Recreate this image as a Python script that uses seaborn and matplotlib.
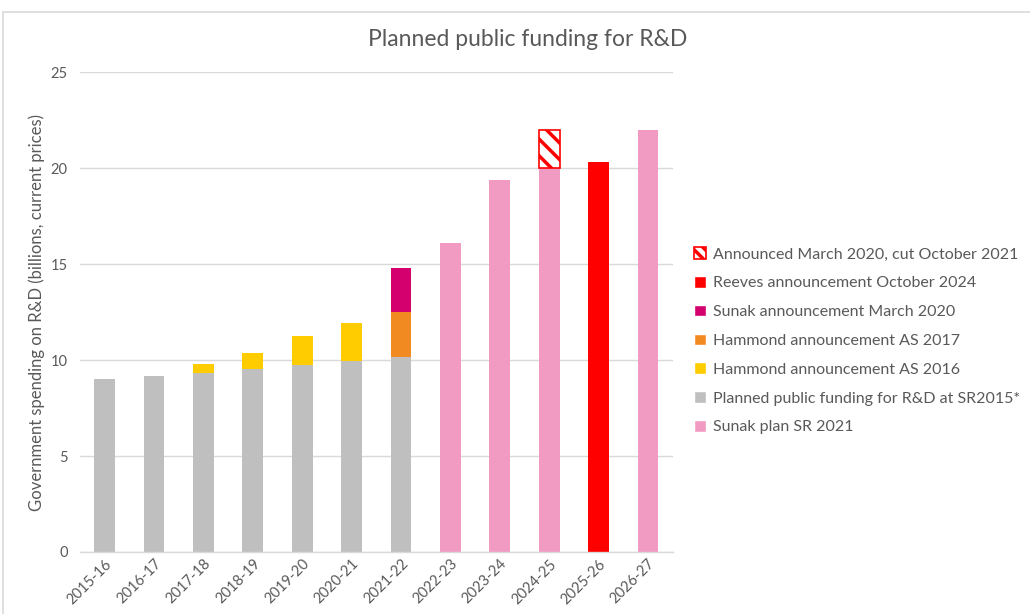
import numpy as np
import pandas as pd
import matplotlib
matplotlib.use("Agg")
import matplotlib.pyplot as plt
import seaborn as sns
from matplotlib.patches import Rectangle, Patch

years = ["2015-16", "2016-17", "2017-18", "2018-19", "2019-20", "2020-21",
         "2021-22", "2022-23", "2023-24", "2024-25", "2025-26", "2026-27"]
sr2015 = [9.0, 9.2, 9.35, 9.55, 9.75, 9.95, 10.15, 0, 0, 0, 0, 0]
hammond_2016 = [0, 0, 0.45, 0.8, 1.5, 2.0, 0, 0, 0, 0, 0, 0]
hammond_2017 = [0, 0, 0, 0, 0, 0, 2.35, 0, 0, 0, 0, 0]
sunak_2020 = [0, 0, 0, 0, 0, 0, 2.3, 0, 0, 0, 0, 0]
sunak_sr2021 = [0, 0, 0, 0, 0, 0, 0, 16.1, 19.4, 20.0, 0, 22.0]
reeves_2024 = [0, 0, 0, 0, 0, 0, 0, 0, 0, 0, 20.35, 0]
cut_2021 = [0, 0, 0, 0, 0, 0, 0, 0, 0, 2.0, 0, 0]

title = "Planned public funding for R&D"
ylabel = "Government spending on R&D (billions, current prices)"

C_GRAY = "#bfbfbf"
C_YEL = "#ffcc00"
C_ORG = "#f28a22"
C_MAG = "#d4006e"
C_PINK = "#f19bc2"
C_RED = "#ff0000"
TXT = "#595959"

sns.set_theme(style="white")
plt.rcParams["font.family"] = ["Lato", "DejaVu Sans"]
plt.rcParams["hatch.linewidth"] = 2.5
plt.rcParams["hatch.color"] = C_RED

fig = plt.figure(figsize=(10.30, 6.14), dpi=100)
ax = fig.add_axes([0.0777, 0.101, 0.5753, 0.781])

layers = [
    ("sr2015", sr2015, C_GRAY),
    ("h16", hammond_2016, C_YEL),
    ("h17", hammond_2017, C_ORG),
    ("s20", sunak_2020, C_MAG),
    ("pink", sunak_sr2021, C_PINK),
    ("reeves", reeves_2024, C_RED),
]
bottom = np.zeros(len(years))
for name, vals, col in layers:
    vals = np.array(vals, dtype=float)
    df = pd.DataFrame({"year": years, "val": vals})
    sns.barplot(data=df, x="year", y="val", order=years, color=col,
                width=0.42, bottom=bottom, linewidth=0, saturation=1,
                ax=ax, errorbar=None)
    bottom = bottom + vals

# hatched "cut" segment
cut = np.array(cut_2021, dtype=float)
df = pd.DataFrame({"year": years, "val": cut})
n_before = len(ax.patches)
sns.barplot(data=df, x="year", y="val", order=years, color="white",
            width=0.42, bottom=bottom, saturation=1, ax=ax, errorbar=None,
            linewidth=1.2)
for p in ax.patches[n_before:]:
    if p.get_height() > 0:
        p.set_hatch("\\\\")
        p.set_edgecolor(C_RED)
        p.set_facecolor("white")
    else:
        p.set_linewidth(0)

ax.set_ylim(0, 25)
ax.set_xlim(-0.5, len(years) - 0.5)
ax.set_yticks([0, 5, 10, 15, 20, 25])
ax.yaxis.grid(True, color="#d9d9d9", linewidth=1)
ax.set_axisbelow(True)
for s in ["top", "right", "left"]:
    ax.spines[s].set_visible(False)
ax.spines["bottom"].set_color("#d9d9d9")
ax.spines["bottom"].set_linewidth(1)
ax.tick_params(axis="both", length=0, colors=TXT, labelsize=10.5)
ax.tick_params(axis="y", pad=9)
ax.set_xlabel("")
ax.set_ylabel(ylabel, color=TXT, fontsize=12, labelpad=4)
plt.setp(ax.get_xticklabels(), rotation=45, ha="right", rotation_mode="anchor")

fig.suptitle(title, x=0.512, y=0.952, fontsize=16.5, color=TXT)

handles = [
    Patch(facecolor="white", edgecolor=C_RED, hatch="\\\\\\", linewidth=1.2),
    Patch(facecolor=C_RED),
    Patch(facecolor=C_MAG),
    Patch(facecolor=C_ORG),
    Patch(facecolor=C_YEL),
    Patch(facecolor=C_GRAY),
    Patch(facecolor=C_PINK),
]
labels = ["Announced March 2020, cut October 2021",
          "Reeves announcement October 2024",
          "Sunak announcement March 2020",
          "Hammond announcement AS 2017",
          "Hammond announcement AS 2016",
          "Planned public funding for R&D at SR2015*",
          "Sunak plan SR 2021"]
leg = fig.legend(handles, labels, loc="center left",
                 bbox_to_anchor=(0.668, 0.445), frameon=False,
                 fontsize=11.5, labelcolor=TXT, handlelength=0.75,
                 handleheight=0.75, handletextpad=0.4, labelspacing=0.9,
                 borderaxespad=0)

fig.add_artist(Rectangle((0.003, -0.01), 1.2, 0.99, transform=fig.transFigure,
                         fill=False, edgecolor="#d9d9d9", linewidth=1.2))

fig.savefig("out.png", dpi=100)
